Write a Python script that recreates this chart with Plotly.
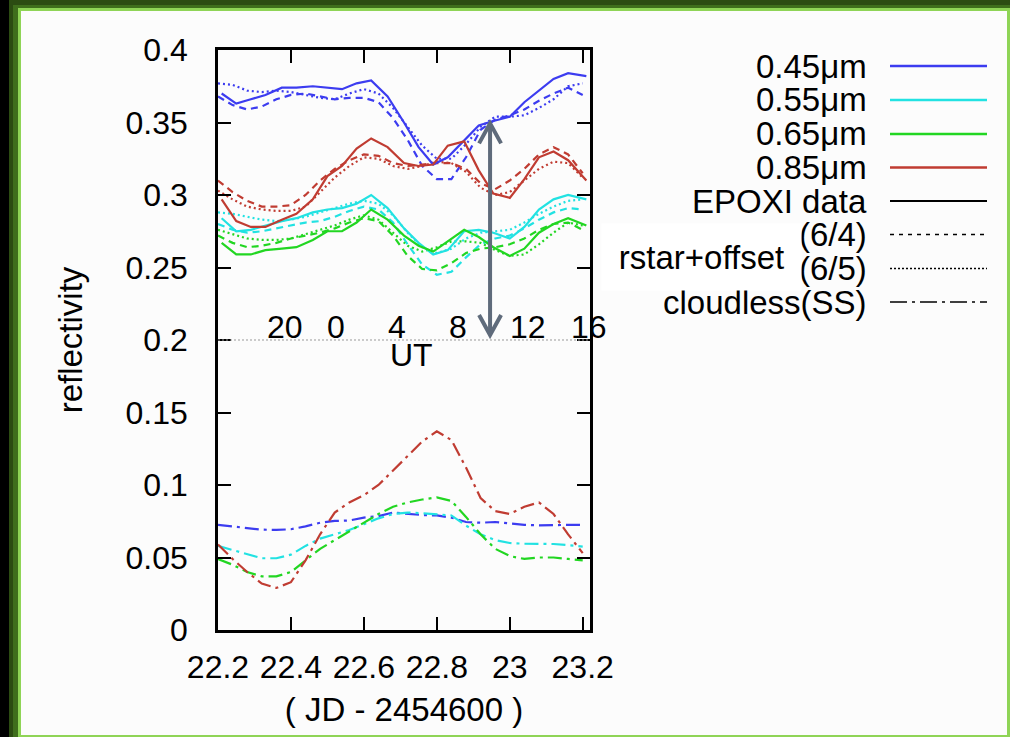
import plotly.graph_objects as go

# ---------------- data ----------------
# EPOXI observation times (JD - 2454600)
t_epoxi = [22.21, 22.25, 22.29, 22.33, 22.375, 22.415, 22.46, 22.50, 22.54, 22.58,
           22.62, 22.665, 22.71, 22.75, 22.79, 22.83, 22.875, 22.915, 22.955, 23.00,
           23.04, 23.08, 23.12, 23.16, 23.21]
epoxi_045 = [0.370, 0.363, 0.366, 0.369, 0.374, 0.374, 0.375, 0.374, 0.373, 0.377,
             0.379, 0.368, 0.350, 0.333, 0.321, 0.326, 0.338, 0.348, 0.351, 0.354,
             0.364, 0.372, 0.380, 0.384, 0.382]
epoxi_055 = [0.284, 0.275, 0.276, 0.279, 0.282, 0.284, 0.288, 0.290, 0.291, 0.294,
             0.300, 0.291, 0.277, 0.267, 0.259, 0.262, 0.275, 0.276, 0.274, 0.270,
             0.278, 0.290, 0.297, 0.300, 0.297]
epoxi_065 = [0.267, 0.259, 0.259, 0.262, 0.263, 0.264, 0.269, 0.275, 0.275, 0.281,
             0.290, 0.283, 0.272, 0.265, 0.261, 0.268, 0.276, 0.271, 0.264, 0.258,
             0.263, 0.274, 0.280, 0.284, 0.279]
epoxi_085 = [0.297, 0.282, 0.278, 0.278, 0.283, 0.287, 0.297, 0.313, 0.320, 0.332,
             0.339, 0.333, 0.322, 0.320, 0.321, 0.334, 0.337, 0.317, 0.301, 0.298,
             0.311, 0.326, 0.330, 0.324, 0.310]

# model times
t_model = [22.20, 22.24, 22.28, 22.32, 22.36, 22.40, 22.44, 22.48, 22.52, 22.56,
           22.60, 22.64, 22.68, 22.72, 22.76, 22.80, 22.84, 22.88, 22.92, 22.96,
           23.00, 23.04, 23.08, 23.12, 23.16, 23.20]

# rstar+offset (6/4)  -- dashed
m64_045 = [0.368, 0.362, 0.359, 0.361, 0.366, 0.369, 0.370, 0.368, 0.366, 0.367,
           0.367, 0.364, 0.353, 0.338, 0.320, 0.311, 0.311, 0.326, 0.345, 0.352,
           0.355, 0.359, 0.365, 0.370, 0.374, 0.369]
m64_055 = [0.280, 0.276, 0.274, 0.275, 0.277, 0.279, 0.281, 0.282, 0.285, 0.289,
           0.292, 0.290, 0.281, 0.266, 0.252, 0.245, 0.247, 0.257, 0.266, 0.270,
           0.272, 0.277, 0.283, 0.288, 0.291, 0.290]
m64_065 = [0.272, 0.267, 0.264, 0.265, 0.267, 0.270, 0.272, 0.274, 0.277, 0.281,
           0.284, 0.282, 0.272, 0.258, 0.249, 0.248, 0.253, 0.260, 0.263, 0.264,
           0.266, 0.270, 0.276, 0.280, 0.281, 0.276]
m64_085 = [0.310, 0.302, 0.296, 0.292, 0.292, 0.293, 0.300, 0.310, 0.318, 0.324,
           0.328, 0.327, 0.322, 0.320, 0.321, 0.322, 0.322, 0.318, 0.308, 0.304,
           0.310, 0.318, 0.328, 0.333, 0.328, 0.315]

# rstar+offset (6/5)  -- dotted
m65_045 = [0.377, 0.376, 0.372, 0.371, 0.372, 0.371, 0.369, 0.367, 0.366, 0.370,
           0.373, 0.370, 0.360, 0.347, 0.334, 0.325, 0.325, 0.335, 0.347, 0.354,
           0.354, 0.355, 0.360, 0.366, 0.375, 0.377]
m65_055 = [0.288, 0.287, 0.285, 0.283, 0.282, 0.283, 0.285, 0.288, 0.291, 0.294,
           0.296, 0.294, 0.286, 0.274, 0.264, 0.260, 0.263, 0.270, 0.274, 0.275,
           0.276, 0.281, 0.287, 0.292, 0.296, 0.297]
m65_065 = [0.276, 0.273, 0.270, 0.269, 0.269, 0.270, 0.273, 0.276, 0.279, 0.283,
           0.286, 0.283, 0.274, 0.265, 0.261, 0.264, 0.268, 0.268, 0.267, 0.262,
           0.258, 0.259, 0.266, 0.274, 0.281, 0.279]
m65_085 = [0.303, 0.297, 0.292, 0.290, 0.289, 0.289, 0.292, 0.302, 0.312, 0.320,
           0.326, 0.325, 0.320, 0.318, 0.320, 0.323, 0.322, 0.316, 0.305, 0.300,
           0.302, 0.310, 0.318, 0.323, 0.322, 0.312]

# cloudless (SS)  -- dash-dot
ss_045 = [0.0725, 0.0715, 0.0700, 0.0692, 0.0690, 0.0695, 0.0715, 0.0740, 0.0752, 0.0755,
          0.0775, 0.0785, 0.0810, 0.0800, 0.0793, 0.0790, 0.0775, 0.0745, 0.0740, 0.0745,
          0.0735, 0.0725, 0.0722, 0.0725, 0.0725, 0.0725]
ss_055 = [0.058, 0.055, 0.052, 0.0495, 0.0495, 0.052, 0.058, 0.063, 0.066, 0.069,
          0.073, 0.077, 0.080, 0.081, 0.0805, 0.080, 0.079, 0.072, 0.066, 0.062,
          0.060, 0.0595, 0.0593, 0.0593, 0.0585, 0.0575]
ss_065 = [0.049, 0.045, 0.040, 0.037, 0.037, 0.040, 0.048, 0.056, 0.062, 0.068,
          0.074, 0.080, 0.085, 0.088, 0.090, 0.0915, 0.089, 0.078, 0.066, 0.056,
          0.051, 0.049, 0.050, 0.050, 0.049, 0.048]
ss_085 = [0.059, 0.049, 0.040, 0.032, 0.029, 0.033, 0.048, 0.066, 0.081, 0.088,
          0.093, 0.100, 0.110, 0.120, 0.130, 0.137, 0.131, 0.112, 0.091, 0.082,
          0.080, 0.085, 0.088, 0.080, 0.066, 0.053]

wavelength_labels = ["0.45\u03bcm", "0.55\u03bcm", "0.65\u03bcm", "0.85\u03bcm"]
style_labels = ["EPOXI data", "(6/4)", "(6/5)", "cloudless(SS)"]
x_ticks = [22.2, 22.4, 22.6, 22.8, 23.0, 23.2]
x_ticktext = ["22.2", "22.4", "22.6", "22.8", "23", "23.2"]
ut_hours = [20, 0, 4, 8, 12, 16]
offset_level = 0.2
arrow_span = [0.2034, 0.3494]
arrow_time = 22.946

# ---------------- styles ----------------
colors = ["#3c3cf0", "#22e2e2", "#22d622", "#c03c32"]
DASH = "7px,5px"
DOT = "2px,3px"
DASHDOT = "14px,5px,3px,5px"
FONT = "Liberation Sans, Arial, Helvetica, sans-serif"
FS_TICK = 32
FS_TXT = 33

W, H = 1010, 737
L, R, T, B = 218, 420, 50, 107
PW, PH = W - L - R, H - T - B


def px(xp):
    return (xp - L) / PW


def py(yp):
    return (H - B - yp) / PH


fig = go.Figure()

data_sets = [epoxi_045, epoxi_055, epoxi_065, epoxi_085]
m64 = [m64_045, m64_055, m64_065, m64_085]
m65 = [m65_045, m65_055, m65_065, m65_085]
ss = [ss_045, ss_055, ss_065, ss_085]

for i in range(4):
    fig.add_trace(go.Scatter(x=t_model, y=ss[i], mode="lines", showlegend=False,
                             line=dict(color=colors[i], width=2.2, dash=DASHDOT)))
for i in range(4):
    fig.add_trace(go.Scatter(x=t_model, y=m64[i], mode="lines", showlegend=False,
                             line=dict(color=colors[i], width=2.2, dash=DASH)))
    fig.add_trace(go.Scatter(x=t_model, y=m65[i], mode="lines", showlegend=False,
                             line=dict(color=colors[i], width=2.2, dash=DOT)))
for i in range(4):
    fig.add_trace(go.Scatter(x=t_epoxi, y=data_sets[i], mode="lines", showlegend=False,
                             line=dict(color=colors[i], width=2.2)))

shapes = []
# slide background / border
shapes.append(dict(type="rect", xref="paper", yref="paper", x0=px(9), x1=px(W), y0=py(0), y1=py(H),
                   fillcolor="#2c4c12", line=dict(width=0), layer="below"))
shapes.append(dict(type="rect", xref="paper", yref="paper", x0=px(13), x1=px(W), y0=py(5), y1=py(H),
                   fillcolor="#3f6e1c", line=dict(width=0), layer="below"))
shapes.append(dict(type="rect", xref="paper", yref="paper", x0=px(18), x1=px(W), y0=py(8), y1=py(H),
                   fillcolor="#8fd456", line=dict(width=0), layer="below"))
shapes.append(dict(type="rect", xref="paper", yref="paper", x0=px(21), x1=px(1007), y0=py(11), y1=py(735),
                   fillcolor="#fcfcfc", line=dict(width=0), layer="below"))
# offset level dotted line
shapes.append(dict(type="line", xref="x domain", yref="y", x0=0, x1=1, y0=offset_level, y1=offset_level,
                   line=dict(color="#999999", width=1, dash="2px,2px")))
# double arrow
acol = "#5f6b7b"
ax_half = 11 / PW * (23.22 - 22.2)
ay_head = 20 / PH * 0.4
shapes.append(dict(type="line", xref="x", yref="y", x0=arrow_time, x1=arrow_time,
                   y0=arrow_span[0] + 0.002, y1=arrow_span[1] - 0.002, line=dict(color=acol, width=4)))
shapes.append(dict(type="path", xref="x", yref="y",
                   path=f"M {arrow_time-ax_half},{arrow_span[1]-ay_head} L {arrow_time},{arrow_span[1]} L {arrow_time+ax_half},{arrow_span[1]-ay_head}",
                   line=dict(color=acol, width=4)))
shapes.append(dict(type="path", xref="x", yref="y",
                   path=f"M {arrow_time-ax_half},{arrow_span[0]+ay_head} L {arrow_time},{arrow_span[0]} L {arrow_time+ax_half},{arrow_span[0]+ay_head}",
                   line=dict(color=acol, width=4)))

annotations = []
# UT labels (left-anchored at the time of that UT hour)
for h in ut_hours:
    jd = 22.5 + (h - 24 if h >= 18 else h) / 24.0
    annotations.append(dict(x=jd, y=py(327), xref="x", yref="paper", text=str(h), showarrow=False,
                            xanchor="left", yanchor="middle", xshift=-2,
                            font=dict(size=FS_TICK, color="black", family=FONT)))
annotations.append(dict(x=px(411), y=py(355), xref="paper", yref="paper", text="UT", showarrow=False,
                        xanchor="center", yanchor="middle", font=dict(size=FS_TICK, color="black", family=FONT)))

# custom legend
row_y = [66, 100, 134, 167.5, 201, 234.5, 268.5, 302]
leg_text = wavelength_labels + style_labels
leg_col = colors + ["black", "black", "black", "black"]
leg_dash = ["solid"] * 5 + ["4px,5px", "2px,2px", "17px,5px,3px,5px"]
leg_w = [2.5] * 4 + [2, 1.5, 1.5, 1.5]
for k in range(8):
    annotations.append(dict(x=px(869), y=py(row_y[k]), xref="paper", yref="paper", text=leg_text[k],
                            showarrow=False, xanchor="right", yanchor="middle",
                            font=dict(size=FS_TXT, color="black", family=FONT)))
    shapes.append(dict(type="line", xref="paper", yref="paper", x0=px(890), x1=px(987),
                       y0=py(row_y[k]), y1=py(row_y[k]), line=dict(color=leg_col[k], width=leg_w[k], dash=leg_dash[k])))

# white label box
annotations.append(dict(x=px(701), y=py(257), xref="paper", yref="paper", text="rstar+offset",
                        showarrow=False, xanchor="center", yanchor="middle", width=197, height=64,
                        bgcolor="#ffffff", font=dict(size=FS_TXT, color="black", family=FONT)))

fig.update_layout(
    width=W, height=H, margin=dict(l=L, r=R, t=T, b=B, pad=0),
    paper_bgcolor="#000000", plot_bgcolor="rgba(0,0,0,0)",
    shapes=shapes, annotations=annotations, showlegend=False,
    font=dict(family=FONT, size=FS_TICK, color="black"),
)
fig.update_xaxes(range=[22.2, 23.22], tickvals=x_ticks, ticktext=x_ticktext,
                 showline=True, linecolor="black", linewidth=2.5, mirror="allticks",
                 ticks="inside", ticklen=13, tickwidth=2, tickcolor="black",
                 showgrid=False, zeroline=False, ticklabelstandoff=7,
                 tickfont=dict(size=FS_TICK, family=FONT, color="black"),
                 title=dict(text="( JD - 2454600 )", font=dict(size=FS_TXT, family=FONT, color="black"), standoff=14))
fig.update_yaxes(range=[0, 0.4], dtick=0.05, tick0=0,
                 showline=True, linecolor="black", linewidth=2.5, mirror="allticks",
                 ticks="inside", ticklen=13, tickwidth=2, tickcolor="black",
                 showgrid=False, zeroline=False, ticklabelstandoff=21,
                 tickfont=dict(size=FS_TICK, family=FONT, color="black"),
                 title=dict(text="reflectivity", font=dict(size=FS_TXT, family=FONT, color="black"), standoff=34))

fig.write_html("out.html")
